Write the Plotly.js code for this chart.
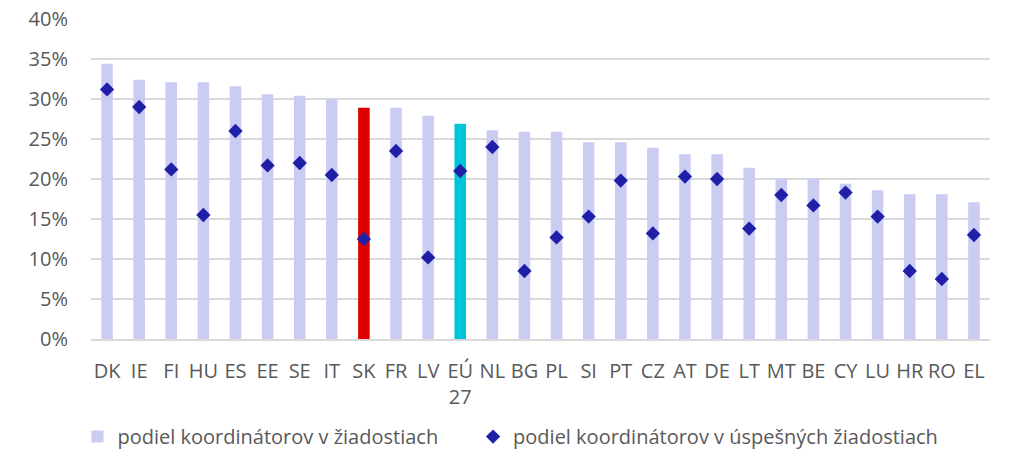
<!DOCTYPE html>
<html>
<head>
<meta charset="utf-8">
<script src="https://cdn.plot.ly/plotly-3.0.1.min.js"></script>
<style>html,body{margin:0;padding:0;background:#fff;}#chart{width:1009px;height:463px;}</style>
</head>
<body>
<div id="chart"></div>
<script>
const categories = ["DK","IE","FI","HU","ES","EE","SE","IT","SK","FR","LV","EÚ<br>27","NL","BG","PL","SI","PT","CZ","AT","DE","LT","MT","BE","CY","LU","HR","RO","EL"];
const shareApplications = [34.4,32.4,32.1,32.1,31.6,30.6,30.4,29.9,28.9,28.9,27.9,26.9,26.1,25.9,25.9,24.6,24.6,23.9,23.1,23.1,21.4,20.1,20.1,19.4,18.6,18.1,18.1,17.1];
const shareSuccessful = [31.2,29.0,21.2,15.5,26.0,21.7,22.0,20.5,12.5,23.5,10.2,21.0,24.0,8.5,12.7,15.3,19.8,13.2,20.3,20.0,13.8,18.0,16.7,18.3,15.3,8.5,7.5,13.0];
const seriesNames = ["podiel koordinátorov v žiadostiach","podiel koordinátorov v úspešných žiadostiach"];

const barColors = categories.map(c => c === "SK" ? "#E00000" : (c.startsWith("EÚ") ? "#00C4D8" : "#CBCCF3"));

const bars = {
  type: "bar",
  x: categories,
  y: shareApplications.map(v => v / 100),
  name: seriesNames[0],
  marker: {color: barColors},
  width: 0.36,
  legend: "legend"
};
const pts = {
  type: "scatter",
  mode: "markers",
  x: categories,
  y: shareSuccessful.map(v => v / 100),
  name: seriesNames[1],
  marker: {symbol: "diamond", size: 11, color: "#1F1FA8"},
  legend: "legend2"
};

const legendFont = {family: "Open Sans, Liberation Sans, sans-serif", size: 20, color: "#595959"};
const layout = {
  width: 1009, height: 463,
  margin: {l: 91, r: 19, t: 19, b: 124, autoexpand: false},
  paper_bgcolor: "#fff", plot_bgcolor: "#fff",
  font: {family: "Open Sans, Liberation Sans, sans-serif", size: 20, color: "#595959"},
  showlegend: true,
  legend: {
    orientation: "h", x: -0.015, xanchor: "left", y: -0.305, yanchor: "middle",
    font: legendFont, bgcolor: "rgba(0,0,0,0)"
  },
  legend2: {
    orientation: "h", x: 0.425, xanchor: "left", y: -0.305, yanchor: "middle",
    font: legendFont, bgcolor: "rgba(0,0,0,0)"
  },
  xaxis: {
    type: "category", range: [-0.5, 27.5], automargin: false,
    showgrid: false, zeroline: false,
    showline: true, linecolor: "#D9D9D9", linewidth: 2,
    ticks: "", tickangle: 0, ticklabelstandoff: 13,
    tickfont: {size: 20, color: "#595959"}
  },
  yaxis: {
    range: [0, 0.4], dtick: 0.05, tickformat: ".0%", automargin: false,
    showgrid: true, gridcolor: "#D9D9D9", gridwidth: 2,
    zeroline: false, showline: false, ticks: "",
    ticklabelstandoff: 22,
    tickfont: {size: 20, color: "#595959"}
  },
  bargap: 0.6
};
Plotly.newPlot("chart", [bars, pts], layout, {displayModeBar: false, staticPlot: true});
</script>
</body>
</html>
